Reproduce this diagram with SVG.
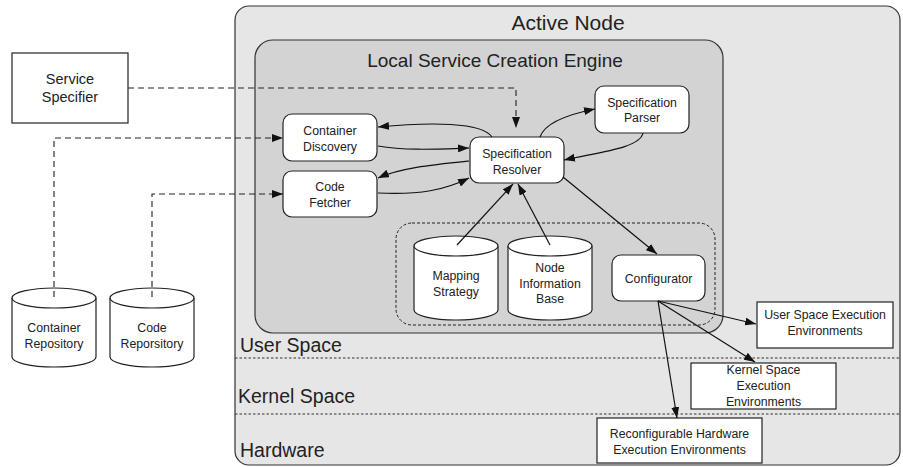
<svg xmlns="http://www.w3.org/2000/svg" width="903" height="467" viewBox="0 0 903 467">
<defs>
<marker id="ah" markerUnits="userSpaceOnUse" markerWidth="11" markerHeight="8" refX="11" refY="4" orient="auto">
<path d="M0,0 L11,4 L0,8 z" fill="#111"/>
</marker>
<style>
text{font-family:"Liberation Sans",Arial,sans-serif;fill:#222;text-anchor:middle}
.box{fill:#fff;stroke:#222;stroke-width:1.2}
.t{font-size:12.3px}
.conn{fill:none;stroke:#111;stroke-width:1.2}
.dash{fill:none;stroke:#222;stroke-width:1.1;stroke-dasharray:6,4}
.dot{fill:none;stroke:#333;stroke-width:1;stroke-dasharray:2.5,2}
.big{font-size:19.5px;text-anchor:start}
</style>
</defs>
<rect width="903" height="467" fill="#fff"/>
<g id="active-node">
<rect x="235" y="6" width="665" height="459" rx="14" fill="#e6e6e6" stroke="#333" stroke-width="1.2"/>
<text x="568" y="30" style="font-size:21px">Active Node</text>
<line class="dot" x1="235" y1="358" x2="900" y2="358"/>
<line class="dot" x1="235" y1="414" x2="900" y2="414"/>
<text class="big" x="240" y="352">User Space</text>
<text class="big" x="238" y="403">Kernel Space</text>
<text class="big" x="240" y="457">Hardware</text>
</g>
<g id="lsce">
<rect x="255" y="40" width="468" height="293" rx="18" fill="#d3d3d3" stroke="#333" stroke-width="1.2"/>
<text x="495" y="67" style="font-size:19px">Local Service Creation Engine</text>
<rect x="396" y="223" width="319" height="102" rx="16" fill="none" stroke="#222" stroke-width="1" stroke-dasharray="3,2"/>
</g>
<g id="service-specifier">
<rect x="12" y="53" width="116" height="70" fill="#fff" stroke="#222" stroke-width="1.2"/>
<text x="70" y="84" style="font-size:14.5px">Service</text>
<text x="70" y="102" style="font-size:14.5px">Specifier</text>
</g>
<g id="container-discovery">
<rect class="box" x="283" y="114" width="94" height="47" rx="9"/>
<text class="t" x="330" y="134.5">Container</text>
<text class="t" x="330" y="150.5">Discovery</text>
</g>
<g id="code-fetcher">
<rect class="box" x="283" y="171" width="94" height="46" rx="9"/>
<text class="t" x="330" y="190.5">Code</text>
<text class="t" x="330" y="206.5">Fetcher</text>
</g>
<g id="spec-resolver">
<rect class="box" x="470" y="137" width="94" height="46" rx="9"/>
<text class="t" x="517" y="158">Specification</text>
<text class="t" x="517" y="173.5">Resolver</text>
</g>
<g id="spec-parser">
<rect class="box" x="595" y="86" width="94" height="47" rx="9"/>
<text class="t" x="642" y="106.5">Specification</text>
<text class="t" x="642" y="121.5">Parser</text>
</g>
<g id="mapping-strategy">
<path class="box" d="M414,246 V310 A42,10 0 0 0 498,310 V246"/>
<ellipse class="box" cx="456" cy="246" rx="42" ry="10"/>
<text class="t" x="456" y="279.5">Mapping</text>
<text class="t" x="456" y="295.5">Strategy</text>
</g>
<g id="node-info-base">
<path class="box" d="M508,246 V310 A42,10 0 0 0 592,310 V246"/>
<ellipse class="box" cx="550" cy="246" rx="42" ry="10"/>
<text class="t" x="550" y="271.5">Node</text>
<text class="t" x="550" y="287.5">Information</text>
<text class="t" x="550" y="302.5">Base</text>
</g>
<g id="configurator">
<rect class="box" x="612" y="255" width="93" height="46" rx="9"/>
<text class="t" x="658.5" y="282.5">Configurator</text>
</g>
<g id="container-repository">
<path class="box" d="M12,298 V357 A42,10 0 0 0 96,357 V298"/>
<ellipse class="box" cx="54" cy="298" rx="42" ry="10"/>
<text class="t" x="54" y="331.5">Container</text>
<text class="t" x="54" y="347.5">Repository</text>
</g>
<g id="code-repository">
<path class="box" d="M110,298 V357 A42,10 0 0 0 194,357 V298"/>
<ellipse class="box" cx="152" cy="298" rx="42" ry="10"/>
<text class="t" x="152" y="331.5">Code</text>
<text class="t" x="152" y="347.5">Reporsitory</text>
</g>
<g id="user-space-ee">
<rect x="757" y="302" width="136" height="46" fill="#fff" stroke="#222" stroke-width="1.2"/>
<text class="t" x="825" y="319">User Space Execution</text>
<text class="t" x="825" y="335">Environments</text>
</g>
<g id="kernel-space-ee">
<rect x="691" y="363" width="145" height="46" fill="#fff" stroke="#222" stroke-width="1.2"/>
<text class="t" x="763.5" y="374">Kernel Space</text>
<text class="t" x="763.5" y="390">Execution</text>
<text class="t" x="763.5" y="406">Environments</text>
</g>
<g id="hardware-ee">
<rect x="597" y="418" width="165" height="45" fill="#fff" stroke="#222" stroke-width="1.2"/>
<text class="t" x="679.5" y="438">Reconfigurable Hardware</text>
<text class="t" x="679.5" y="454">Execution Environments</text>
</g>
<g id="connectors">
<path class="dash" d="M128,88 H516 V128" marker-end="url(#ah)"/>
<path class="dash" d="M54,297 V138 H283" marker-end="url(#ah)"/>
<path class="dash" d="M152,297 V194 H283" marker-end="url(#ah)"/>
<path class="conn" d="M492,137 C482,122 430,122 378,127" marker-end="url(#ah)"/>
<path class="conn" d="M378,146 C405,151 440,149 469,148" marker-end="url(#ah)"/>
<path class="conn" d="M469,161 C430,165 400,168 378,178" marker-end="url(#ah)"/>
<path class="conn" d="M378,193 C420,195 445,190 469,178" marker-end="url(#ah)"/>
<path class="conn" d="M540,137 C545,122 570,114 595,109" marker-end="url(#ah)"/>
<path class="conn" d="M643,133 C640,148 600,152 564,160" marker-end="url(#ah)"/>
<path class="conn" d="M457,245 L513,184" marker-end="url(#ah)"/>
<path class="conn" d="M550,245 L518,184" marker-end="url(#ah)"/>
<path class="conn" d="M563,177 L657,254" marker-end="url(#ah)"/>
<path class="conn" d="M658,301 L756,324" marker-end="url(#ah)"/>
<path class="conn" d="M658,301 L755,362" marker-end="url(#ah)"/>
<path class="conn" d="M658,301 L677,418" marker-end="url(#ah)"/>
</g>
</svg>
